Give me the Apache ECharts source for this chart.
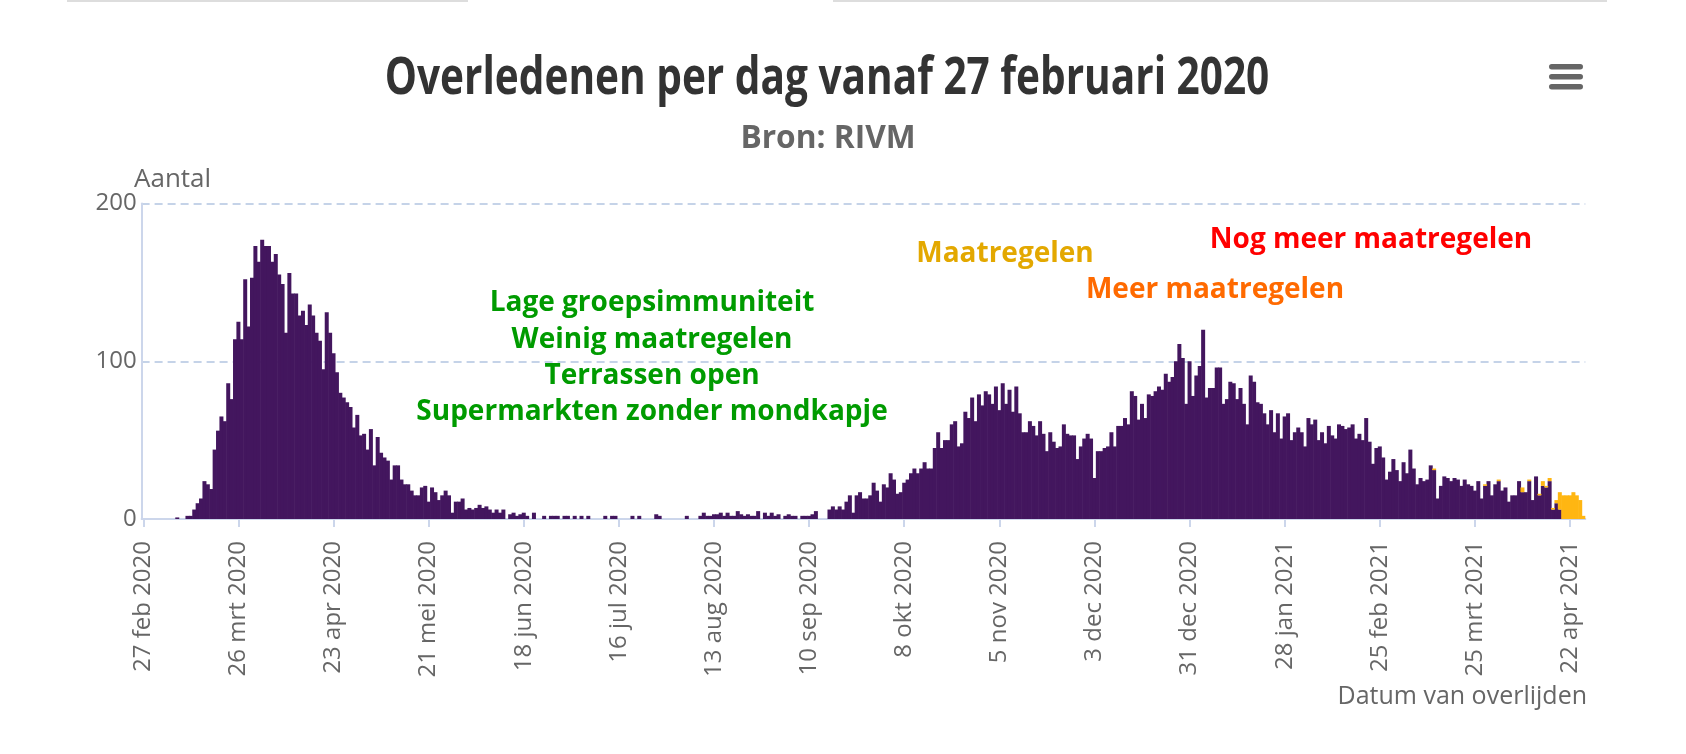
<!DOCTYPE html>
<html><head><meta charset="utf-8">
<script src="https://cdn.jsdelivr.net/npm/echarts@6/dist/echarts.min.js"></script>
<style>html,body{margin:0;padding:0;background:#fff}#c{width:1686px;height:754px}</style>
</head><body><div id="c"></div>
<script>
// ---------- DATA ----------
const startDate = '2020-02-27';
// confirmed deaths per day (purple), one value per day from 27 feb 2020
const deaths = [
  0,0,0,0,0,0,0,0,0,0,
  1,0,0,2,2,6,10,13,24,22,
  19,44,56,65,62,86,76,114,125,114,
  152,122,153,173,163,177,173,173,163,168,
  155,149,118,156,143,143,129,132,123,136,
  129,118,113,95,131,118,105,93,80,77,
  74,71,58,66,53,54,44,57,34,52,
  42,39,37,25,34,34,25,22,22,18,
  15,15,20,21,11,20,17,12,15,18,
  15,4,11,11,13,6,7,6,7,9,
  7,8,6,4,6,4,6,0,3,4,
  2,3,4,2,0,4,0,0,2,0,
  2,2,2,0,2,2,0,2,0,2,
  0,2,0,0,0,0,2,0,2,2,
  0,0,0,0,2,0,2,0,0,0,
  0,3,2,0,0,0,0,0,0,0,
  2,0,0,0,2,4,2,2,3,3,
  4,2,4,2,2,5,3,2,3,2,
  2,5,0,4,2,4,2,3,0,2,
  3,2,2,0,2,2,2,3,5,0,
  0,0,6,8,6,8,6,11,15,4,
  15,17,13,13,15,23,18,11,22,20,
  29,25,16,17,23,25,29,32,29,32,
  36,32,32,45,55,45,50,50,60,62,
  46,48,68,64,77,62,79,72,81,79,
  73,84,69,86,73,82,68,84,67,55,
  55,62,59,53,62,54,43,55,49,45,
  46,60,54,53,53,38,46,51,54,51,
  26,43,43,45,46,55,46,59,59,64,
  60,81,78,63,73,64,79,78,81,84,
  82,92,87,90,100,111,102,73,100,78,
  91,97,120,77,83,83,96,96,73,76,
  87,86,76,83,73,60,91,87,74,73,
  67,60,69,55,67,51,65,67,50,55,
  58,55,46,64,60,63,50,55,48,59,
  53,51,60,59,57,58,60,51,54,50,
  64,49,35,45,46,39,25,30,38,31,
  24,36,29,44,32,22,26,24,25,34,
  31,13,21,27,26,24,26,25,21,25,
  22,21,18,24,13,21,24,15,22,24,
  18,20,11,15,15,24,17,17,24,12,
  27,15,21,20,24,6,10,6,0,0,
  0,0,0,0,0
];
// not yet reported (orange) additions
const pendingDates = ['2021-03-13','2021-03-28','2021-04-01','2021-04-08','2021-04-10','2021-04-13','2021-04-14','2021-04-15','2021-04-16','2021-04-17','2021-04-18','2021-04-19','2021-04-20','2021-04-21','2021-04-22','2021-04-23','2021-04-24','2021-04-25','2021-04-26'];
const pendingValues = [1,1,1,3,1,1,3,1,2,1,2,11,15,15,15,17,15,12,2];
const tickDates = ['2020-02-27','2020-03-26','2020-04-23','2020-05-21','2020-06-18','2020-07-16','2020-08-13','2020-09-10','2020-10-08','2020-11-05','2020-12-03','2020-12-31','2021-01-28','2021-02-25','2021-03-25','2021-04-22'];
const tickLabels = ['27 feb 2020','26 mrt 2020','23 apr 2020','21 mei 2020','18 jun 2020','16 jul 2020','13 aug 2020','10 sep 2020','8 okt 2020','5 nov 2020','3 dec 2020','31 dec 2020','28 jan 2021','25 feb 2021','25 mrt 2021','22 apr 2021'];
const yTicks = [0, 100, 200];
const titleText = 'Overledenen per dag vanaf 27 februari 2020';
const subtitleText = 'Bron: RIVM';
const yName = 'Aantal';
const xName = 'Datum van overlijden';
const greenLines = ['Lage groepsimmuniteit','Weinig maatregelen','Terrassen open','Supermarkten zonder mondkapje'];
const measureLabels = ['Maatregelen','Meer maatregelen','Nog meer maatregelen'];

// ---------- BUILD ----------
const categories = [];
const t0 = Date.parse(startDate + 'T00:00:00Z');
for (let i = 0; i < deaths.length; i++) {
  categories.push(new Date(t0 + i * 86400000).toISOString().slice(0, 10));
}
const pending = categories.map(c => {
  const k = pendingDates.indexOf(c);
  return k >= 0 ? pendingValues[k] : 0;
});
const isTick = (idx, val) => tickDates.indexOf(val) >= 0;

const FONT = '"Open Sans", sans-serif';
const chart = echarts.init(document.getElementById('c'), null, {renderer: 'canvas'});

const graphics = [
  {type:'rect', shape:{x:67, y:0, width:401, height:2}, style:{fill:'#dddddd'}},
  {type:'rect', shape:{x:833, y:0, width:774, height:2}, style:{fill:'#dddddd'}},
  {type:'text', x:827, y:79, scaleX:0.78, style:{text:titleText, fill:'#333333', font:'bold 52px ' + FONT, textAlign:'center', textVerticalAlign:'middle'}},
  {type:'text', x:828, y:139, scaleX:0.96, style:{text:subtitleText, fill:'#666666', font:'bold 33px ' + FONT, textAlign:'center', textVerticalAlign:'middle'}},
  {type:'text', x:134, y:180, style:{text:yName, fill:'#666666', font:'26px ' + FONT, textAlign:'left', textVerticalAlign:'middle'}},
  {type:'text', x:1587, y:697, style:{text:xName, fill:'#666666', font:'25px ' + FONT, textAlign:'right', textVerticalAlign:'middle'}},
  {type:'rect', shape:{x:1549, y:64, width:34, height:5.5, r:2.75}, style:{fill:'#666666'}},
  {type:'rect', shape:{x:1549, y:74, width:34, height:5.5, r:2.75}, style:{fill:'#666666'}},
  {type:'rect', shape:{x:1549, y:84, width:34, height:5.5, r:2.75}, style:{fill:'#666666'}}
];
const greenY = [303, 340, 376, 412];
greenLines.forEach((t, i) => graphics.push({type:'text', x:652, y:greenY[i], style:{text:t, fill:'#009b00', font:'bold 28px ' + FONT, textAlign:'center', textVerticalAlign:'middle'}}));
const measPos = [[1005, 254, '#e3a800'], [1215, 290, '#ff6a00'], [1371, 240, '#ff0000']];
measureLabels.forEach((t, i) => graphics.push({type:'text', x:measPos[i][0], y:measPos[i][1], style:{text:t, fill:measPos[i][2], font:'bold 28px ' + FONT, textAlign:'center', textVerticalAlign:'middle'}}));

chart.setOption({
  animation: false,
  backgroundColor: '#ffffff',
  textStyle: {fontFamily: FONT},
  grid: {left: 141.6, width: 1443.7, top: 203.5, height: 315.5, containLabel: false},
  xAxis: {
    type: 'category', data: categories, boundaryGap: true,
    axisLine: {show: true, lineStyle: {color: '#ccd6eb', width: 2}},
    axisTick: {show: true, alignWithLabel: true, interval: isTick, length: 8, lineStyle: {color: '#ccd6eb', width: 2}},
    axisLabel: {interval: isTick, rotate: 90, margin: 22, color: '#666666', fontSize: 24, fontFamily: FONT,
      formatter: v => { const k = tickDates.indexOf(v); return k >= 0 ? tickLabels[k] : ''; }},
    splitLine: {show: false}
  },
  yAxis: {
    type: 'value', min: yTicks[0], max: yTicks[yTicks.length - 1], interval: yTicks[1] - yTicks[0],
    axisLine: {show: true, lineStyle: {color: '#ccd6eb', width: 2}},
    axisTick: {show: false},
    axisLabel: {margin: 5, color: '#666666', fontSize: 24, fontFamily: FONT},
    splitLine: {show: true, lineStyle: {color: '#c5d3e8', width: 2, type: [8, 5]}}
  },
  series: [
    {type: 'bar', name: 'Overleden', stack: 'd', data: deaths, barWidth: 4, barGap: '0%',
     itemStyle: {color: '#43165e'}, emphasis: {disabled: true}, silent: true},
    {type: 'bar', name: 'Nog te verwachten', stack: 'd', data: pending, barWidth: 4,
     itemStyle: {color: '#ffb612'}, emphasis: {disabled: true}, silent: true}
  ],
  graphic: graphics
});
</script>
</body></html>
